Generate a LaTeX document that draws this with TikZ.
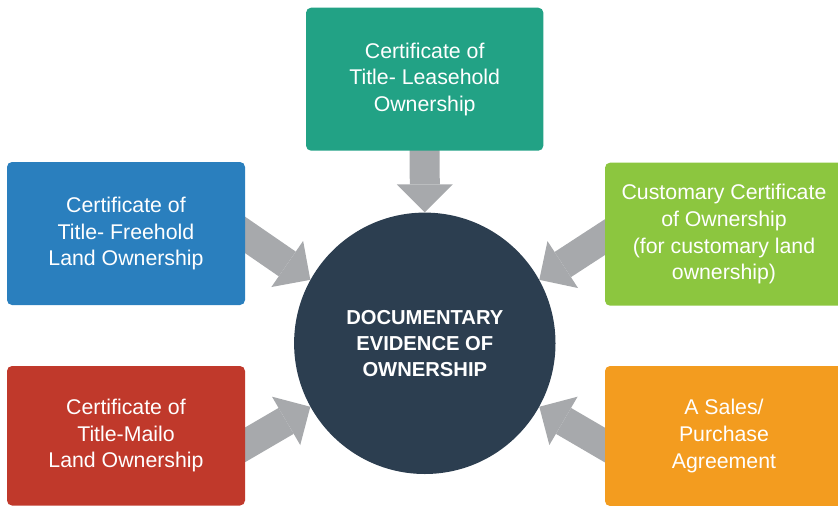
\documentclass[tikz,border=0pt]{standalone}
\usepackage{fontspec}
\setmainfont{Liberation Sans}
\usetikzlibrary{arrows.meta,calc}
\pgfdeclarelayer{bg}
\pgfsetlayers{bg,main}
\definecolor{cteal}{HTML}{22A285}
\definecolor{cblue}{HTML}{2A7FBE}
\definecolor{clime}{HTML}{8CC63F}
\definecolor{cred}{HTML}{C0392B}
\definecolor{corange}{HTML}{F39C1F}
\definecolor{cnavy}{HTML}{2C3E50}
\definecolor{cgray}{HTML}{A7A9AC}
\begin{document}
\begin{tikzpicture}[x=1pt,y=-1pt,
  box/.style={rectangle, rounded corners=5pt, minimum width=238pt, text=white,
    align=center, inner sep=0pt, font=\fontsize{21.3}{26.7}\selectfont},
  hub/.style={circle, fill=cnavy, minimum size=261.4pt, inner sep=0pt, text=white,
    align=center, font=\bfseries\fontsize{20.2}{26}\selectfont},
  bigarrow/.style={draw=cgray, line width=30pt,
    -{Triangle[width=56pt,length=28pt,line width=0pt]}}]
\useasboundingbox (0,0) rectangle (838,506);
\clip (0,0) rectangle (838,506);
\node[box, fill=cteal, minimum width=237.3pt, minimum height=143pt] (tg) at (424.7,79.2)
  {Certificate of\\Title- Leasehold\\Ownership};
\node[box, fill=cblue, minimum height=143pt] (bl) at (126,233.5)
  {Certificate of\\Title- Freehold\\Land Ownership};
\node[box, fill=clime, minimum height=143pt] (gr) at (724,234.2)
  {Customary Certificate\\of Ownership\\(for customary land\\ownership)};
\node[box, fill=cred, minimum height=139.5pt] (rl) at (126,435.75)
  {Certificate of\\Title-Mailo\\Land Ownership};
\node[box, fill=corange, minimum height=140pt] (org) at (724,436)
  {A Sales/\\Purchase\\Agreement};
\node[hub] (c) at (424.8,343.3) {DOCUMENTARY\\EVIDENCE OF\\OWNERSHIP};
\begin{pgfonlayer}{bg}
\draw[bigarrow] ($(tg.south)!-12pt!(c.north)$) -- (c.north);
\draw[bigarrow] ($([yshift=-1.5pt]bl.east)!-12pt!(c.151)$) -- (c.151);
\draw[bigarrow] ($([yshift=-3pt]gr.west)!-12pt!(c.29)$) -- (c.29);
\draw[bigarrow] ($([yshift=-9pt]rl.east)!-12pt!(c.209)$) -- (c.209);
\draw[bigarrow] ($([yshift=-9pt]org.west)!-12pt!(c.331)$) -- (c.331);
\end{pgfonlayer}
\end{tikzpicture}
\end{document}
